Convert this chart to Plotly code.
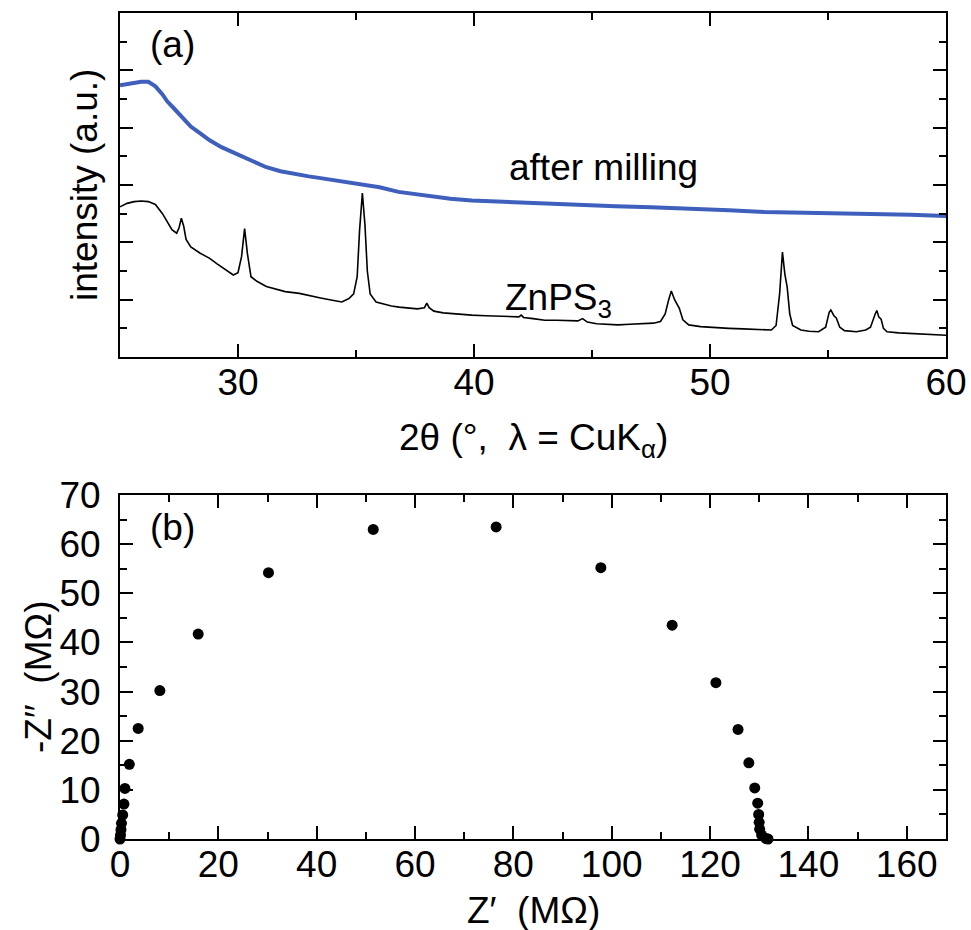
import plotly.graph_objects as go

# ---- (a) XRD patterns: 2-theta (deg) and intensity (a.u., offset traces) ----
tt_zinc = [25.0, 25.3, 25.6, 25.9, 26.2, 26.5, 26.8, 27.0, 27.2, 27.4, 27.5, 27.6, 27.7,
           27.8, 28.0, 28.4, 28.8, 29.1, 29.5, 29.8, 30.0, 30.15, 30.28, 30.4, 30.55,
           30.8, 31.2, 31.6, 32.0, 32.6, 33.0, 33.5, 34.0, 34.4, 34.7, 34.9, 35.05,
           35.15, 35.27, 35.38, 35.48, 35.6, 35.85, 36.2, 36.5, 36.83, 37.2, 37.6,
           37.9, 38.0, 38.1, 38.3, 38.7, 39.2, 39.9, 40.5, 41.0, 41.5, 41.9, 42.0,
           42.1, 42.5, 43.0, 43.5, 44.0, 44.4, 44.6, 44.8, 45.2, 45.7, 46.1, 46.6,
           47.0, 47.6, 47.9, 48.1, 48.25, 48.36, 48.5, 48.7, 48.85, 49.1, 49.6,
           50.2, 50.8, 51.4, 52.0, 52.6, 52.8, 52.95, 53.07, 53.17, 53.27, 53.38,
           53.5, 53.85, 54.2, 54.6, 54.9, 55.05, 55.12, 55.25, 55.35, 55.5, 55.7,
           56.2, 56.6, 56.8, 57.0, 57.07, 57.15, 57.25, 57.35, 57.5, 58.0, 58.5,
           59.0, 59.5, 60.0]
int_zinc = [2.62, 2.68, 2.71, 2.72, 2.71, 2.66, 2.50, 2.35, 2.22, 2.16, 2.25, 2.42, 2.28,
            2.05, 1.92, 1.81, 1.72, 1.63, 1.52, 1.43, 1.47, 1.75, 2.24, 1.80, 1.40,
            1.32, 1.23, 1.18, 1.14, 1.11, 1.07, 1.03, 0.99, 0.96, 1.02, 1.10, 1.40,
            2.20, 2.86, 2.30, 1.50, 1.10, 0.96, 0.92, 0.89, 0.87, 0.86, 0.84,
            0.86, 0.94, 0.86, 0.80, 0.77, 0.75, 0.73, 0.72, 0.71, 0.70, 0.70, 0.73,
            0.69, 0.67, 0.64, 0.64, 0.63, 0.63, 0.67, 0.61, 0.58, 0.57, 0.56, 0.57,
            0.58, 0.59, 0.62, 0.75, 1.00, 1.15, 1.00, 0.85, 0.65, 0.56, 0.53,
            0.51, 0.50, 0.49, 0.48, 0.47, 0.55, 1.10, 1.83, 1.45, 1.22, 0.75,
            0.55, 0.47, 0.45, 0.44, 0.52, 0.78, 0.82, 0.72, 0.68, 0.52, 0.46,
            0.44, 0.47, 0.52, 0.75, 0.81, 0.70, 0.66, 0.50, 0.44, 0.42, 0.41,
            0.40, 0.39, 0.38]

tt_milled = [25.0, 25.3, 25.6, 25.9, 26.2, 26.5, 26.8, 27.0, 27.3, 27.6, 28.0, 28.4,
             28.8, 29.3, 29.8, 30.3, 30.8, 31.2, 31.8, 32.4, 33.0, 33.5, 34.0, 34.7,
             35.4, 36.0, 36.8, 37.5, 38.3, 39.0, 39.9, 41.0, 42.0, 43.0, 44.6, 46.0,
             47.5, 49.2, 50.8, 52.3, 54.0, 55.4, 57.0, 58.5, 60.0]
int_milled = [4.74, 4.76, 4.78, 4.80, 4.80, 4.72, 4.58, 4.46, 4.33, 4.20, 4.02, 3.90,
              3.78, 3.66, 3.57, 3.47, 3.38, 3.31, 3.24, 3.19, 3.15, 3.12, 3.09, 3.05,
              3.00, 2.96, 2.88, 2.84, 2.80, 2.76, 2.73, 2.71, 2.69, 2.67, 2.65, 2.63,
              2.61, 2.59, 2.56, 2.53, 2.52, 2.51, 2.49, 2.48, 2.46]

# ---- (b) Impedance spectrum: Z' and -Z'' in MOhm ----
z_real = [0.0, 0.1, 0.2, 0.3, 0.55, 0.8, 1.0, 1.9, 3.7, 8.1, 15.9, 30.2, 51.5, 76.5,
          97.8, 112.3, 121.2, 125.7, 127.9, 129.1, 129.7, 129.9, 130.0, 130.1, 130.5,
          131.4, 131.8]
z_imag = [0.0, 0.8, 1.9, 3.2, 4.9, 7.1, 10.3, 15.2, 22.5, 30.2, 41.7, 54.2, 63.0, 63.5,
          55.2, 43.5, 31.8, 22.3, 15.5, 10.4, 7.3, 5.0, 3.4, 2.0, 0.8,
          0.1, 0.0]

FONT = "Liberation Sans, Arial, Helvetica, sans-serif"
FS = 37
W, H = 971, 930

fig = go.Figure()
fig.add_trace(go.Scatter(x=tt_milled, y=int_milled, mode="lines",
                         line=dict(color="#3f5fbd", width=4),
                         xaxis="x", yaxis="y", showlegend=False))
fig.add_trace(go.Scatter(x=tt_zinc, y=int_zinc, mode="lines",
                         line=dict(color="black", width=1.6),
                         xaxis="x", yaxis="y", showlegend=False))
fig.add_trace(go.Scatter(x=z_real, y=z_imag, mode="markers",
                         marker=dict(color="black", size=11),
                         xaxis="x2", yaxis="y2", showlegend=False, cliponaxis=False))


def axis_style(**kw):
    base = dict(showline=True, linecolor="black", linewidth=2, mirror="ticks",
                ticks="inside", ticklen=13, tickwidth=2, tickcolor="black",
                showgrid=False, zeroline=False, automargin=False,
                tickfont=dict(family=FONT, size=FS, color="black"))
    base.update(kw)
    return base


def minor(step):
    return dict(dtick=step, ticks="inside", ticklen=7, tickwidth=2,
                tickcolor="black", showgrid=False)


x_dom = [120 / W, 946 / W]
fig.update_layout(
    template="none",
    width=W, height=H,
    margin=dict(l=0, r=0, t=0, b=0, pad=0),
    paper_bgcolor="white", plot_bgcolor="white",
    font=dict(family=FONT, size=FS, color="black"),
    xaxis=axis_style(domain=x_dom, anchor="y", range=[25, 60], dtick=10,
                     tick0=0, ticklabelstandoff=-8, minor=minor(5)),
    yaxis=axis_style(domain=[1 - 357 / H, 1 - 13 / H], anchor="x", range=[0, 6],
                     dtick=1, showticklabels=False, minor=minor(0.5)),
    xaxis2=axis_style(domain=x_dom, anchor="y2", range=[0, 168], dtick=20,
                      tick0=0, ticklabelstandoff=-8, minor=minor(10)),
    yaxis2=axis_style(domain=[1 - 839 / H, 1 - 495 / H], anchor="x2", range=[0, 70],
                      dtick=10, ticklabelstandoff=10, minor=minor(5)),
)


def label(text, x, y, xanchor="center", angle=0, size=FS):
    fig.add_annotation(text=text, x=x / W, y=1 - y / H, xref="paper", yref="paper",
                       xanchor=xanchor, yanchor="middle", textangle=angle,
                       showarrow=False, font=dict(family=FONT, size=size, color="black"))


label("(a)", 172, 45)
label("(b)", 172, 527)
label("after milling", 603, 167)
label("ZnPS<sub>3</sub>", 503, 300, xanchor="left")
label("2θ (°,\u00a0 λ = CuK<sub>α</sub>)", 533, 440)
label("intensity (a.u.)", 84, 185, angle=-90)
label("Z′\u00a0\u00a0(MΩ)", 533, 910)
label("-Z′′\u00a0\u00a0(MΩ)", 38, 677, angle=-90)

fig.write_html("out.html")
